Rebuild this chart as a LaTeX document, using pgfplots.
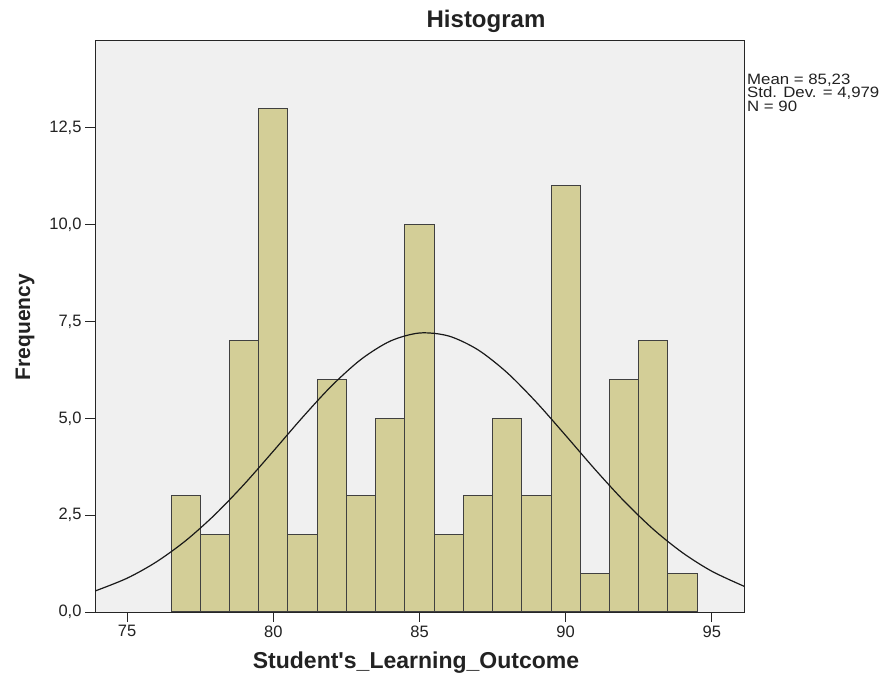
\documentclass[border=0pt]{standalone}
\usepackage{pgfplots}
\pgfplotsset{compat=1.18}
\usepackage{fontspec}
\setmainfont{Liberation Sans}
\newfontfamily\legfont{Liberation Sans}[FakeStretch=1.12]
\definecolor{barfill}{HTML}{D3CE97}
\definecolor{bg}{HTML}{F0F0F0}
\definecolor{txt}{HTML}{222222}
\begin{document}
\begin{tikzpicture}
\path[use as bounding box, fill=white] (0,0) rectangle (881pt,677pt);
\begin{axis}[
  at={(95pt,65pt)}, anchor=south west,
  scale only axis, width=649pt, height=572pt,
  xmin=73.9, xmax=96.1, ymin=0, ymax=14.77,
  axis background/.style={fill=bg},
  axis line style={black!85, line width=0.9pt},
  xtick={75,80,85,90,95},
  ytick={0,2.5,5,7.5,10,12.5},
  tick align=outside, major tick length=10pt,
  xtick pos=bottom, ytick pos=left,
  tick style={black!85, line width=0.9pt},
  ticklabel style={font=\fontsize{16.5}{18}\selectfont, text=txt},
  x tick label style={yshift=0pt},
  y tick label style={xshift=0pt},
  /pgf/number format/assume math mode=true,
  scaled y ticks=false,
  y tick label style={/pgf/number format/.cd, fixed, fixed zerofill, precision=1, use comma},
]
\addplot[ybar, bar width=1, bar shift=0pt, fill=barfill, draw=black!75, line width=1pt]
coordinates {(77,3)(78,2)(79,7)(80,13)(81,2)(82,6)(83,3)(84,5)(85,10)(86,2)(87,3)(88,5)(89,3)(90,11)(91,1)(92,6)(93,7)(94,1)};
\addplot[smooth, black!90, line width=1.2pt, no markers]
coordinates {(73.9,0.541)(75,0.873)(76,1.294)(77,1.840)(78,2.513)(79,3.296)(80,4.154)(81,5.027)(82,5.844)(83,6.523)(84,6.995)(85,7.204)(86,7.126)(87,6.770)(88,6.178)(89,5.414)(90,4.558)(91,3.685)(92,2.862)(93,2.134)(94,1.529)(95,1.052)(96.1,0.665)};
\end{axis}
\node[font=\bfseries\fontsize{24}{28}\selectfont, text=txt] at (486pt,656pt) {Histogram};
\node[font=\bfseries\fontsize{23}{26}\selectfont, text=txt] at (416pt,14pt) {Student\textquotesingle s\_Learning\_Outcome};
\node[rotate=90, font=\bfseries\fontsize{21}{24}\selectfont, text=txt] at (25pt,350pt) {Frequency};
\node[anchor=base west, inner sep=0pt, font=\legfont\fontsize{15}{15}\selectfont, text=txt] at (747pt,592.7pt) {Mean = 85,23};
\node[anchor=base west, inner sep=0pt, font=\legfont\fontsize{15}{15}\selectfont, text=txt] at (747pt,579.2pt) {Std. Dev. = 4,979};
\node[anchor=base west, inner sep=0pt, font=\legfont\fontsize{15}{15}\selectfont, text=txt] at (747pt,565.7pt) {N = 90};
\end{tikzpicture}
\end{document}
